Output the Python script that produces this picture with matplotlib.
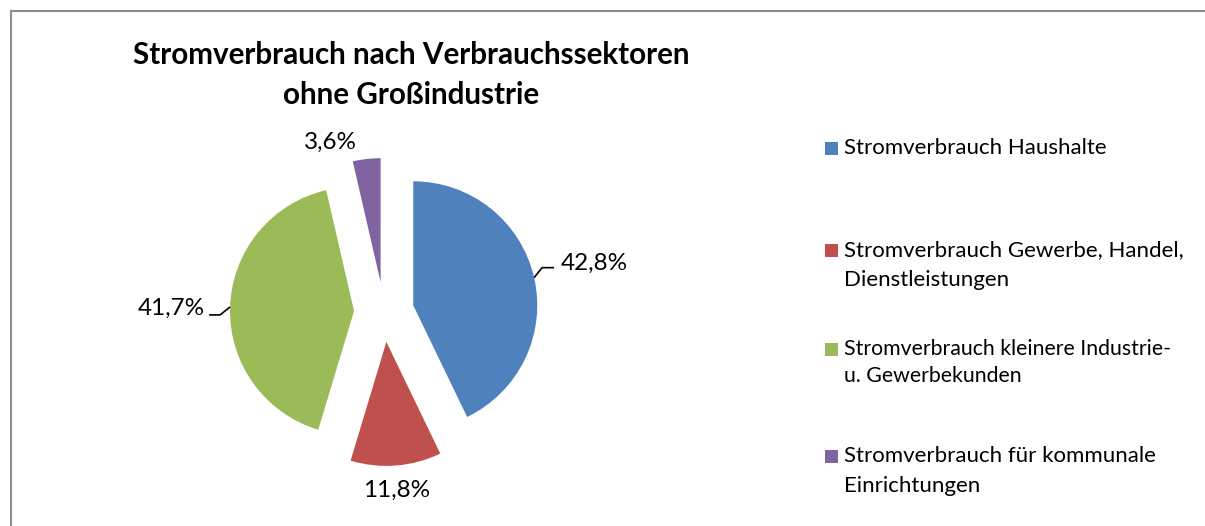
import numpy as np
import matplotlib
matplotlib.use("Agg")
import matplotlib.pyplot as plt
from matplotlib.lines import Line2D
from matplotlib.patches import Rectangle

# ---- data ----
title_lines = ["Stromverbrauch nach Verbrauchssektoren", "ohne Großindustrie"]
categories = [
    "Stromverbrauch Haushalte",
    "Stromverbrauch Gewerbe, Handel,\nDienstleistungen",
    "Stromverbrauch kleinere Industrie-\nu. Gewerbekunden",
    "Stromverbrauch für kommunale\nEinrichtungen",
]
values = [42.8, 11.8, 41.7, 3.6]
colors = ["#4F81BD", "#C0504D", "#9BBB59", "#8064A2"]

W, H = 1205, 526
FONT = ["Lato", "DejaVu Sans"]
plt.rcParams["font.family"] = FONT

fig = plt.figure(figsize=(W / 100, H / 100), dpi=100)
fig.patch.set_facecolor("white")
ax = fig.add_axes([0, 0, 1, 1])

R = 124
EXPL = 30
center = (384, H - 312)
wedges, _ = ax.pie(values, colors=colors, startangle=90, counterclock=False,
                   radius=R, center=center, explode=[EXPL] * len(values),
                   frame=True, wedgeprops=dict(linewidth=0))
ax.set_xlim(0, W)
ax.set_ylim(0, H)
ax.set_aspect("auto")
ax.axis("off")

def fmt(v):
    return f"{v:.1f}".replace(".", ",") + "%"

# label styles: leader offsets from arc midpoint, text offset, alignment
label_style = [
    dict(leader=[(8, 10), (20, 10)], text=(27, 14), ha="left"),
    dict(leader=None, text=(1, -25), ha="center"),
    dict(leader=[(-10, -8), (-21, -8)], text=(-25, -1), ha="right"),
    dict(leader=None, text=(-36, 17), ha="center"),
]
for w, v, st in zip(wedges, values, label_style):
    th = np.deg2rad((w.theta1 + w.theta2) / 2)
    cx, cy = w.center
    px, py = cx + R * np.cos(th), cy + R * np.sin(th)
    if st["leader"]:
        xs = [px] + [px + dx for dx, dy in st["leader"]]
        ys = [py] + [py + dy for dx, dy in st["leader"]]
        ax.plot(xs, ys, color="black", lw=1.2, solid_capstyle="butt")
    ax.text(px + st["text"][0], py + st["text"][1], fmt(v), ha=st["ha"],
            va="center", fontsize=17.5, color="black")

# title
for line, yb in zip(title_lines, [64, 104]):
    ax.text(411, H - yb, line, ha="center", va="baseline",
            fontsize=21.3, fontweight="bold", color="black")

# legend (manual, matching the reference layout)
leg_baselines = [154, 256, 355, 462]
leg_sizes = [16, 16, 15.3, 16]
leg_gaps = [30, 30, 27, 30]
for cat, col, yb, fs, gap in zip(categories, colors, leg_baselines,
                                 leg_sizes, leg_gaps):
    ax.add_patch(Rectangle((825, H - yb - 1), 13, 13, facecolor=col,
                           edgecolor="none"))
    for i, line in enumerate(cat.split("\n")):
        ax.text(844, H - yb - i * gap, line, ha="left", va="baseline",
                fontsize=fs, color="black")

# outer border (top and left visible)
fig.add_artist(Line2D([11 / W, 1.0], [1 - 11 / H, 1 - 11 / H],
                      transform=fig.transFigure, color="#8c8c8c", lw=1.5))
fig.add_artist(Line2D([11 / W, 11 / W], [0, 1 - 11 / H],
                      transform=fig.transFigure, color="#8c8c8c", lw=1.5))

fig.savefig("out.png", dpi=100)
